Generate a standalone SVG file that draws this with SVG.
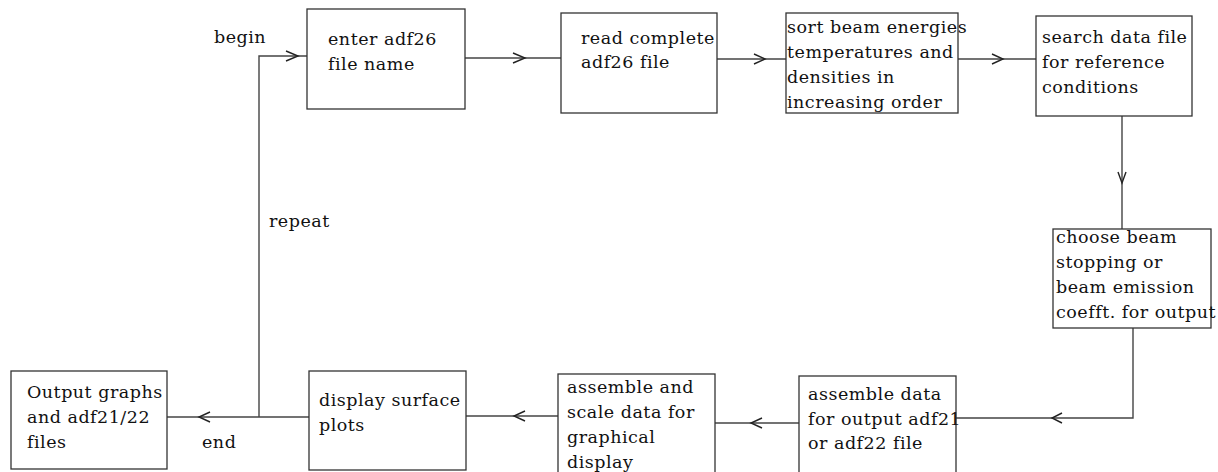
<svg xmlns="http://www.w3.org/2000/svg" width="1218" height="472" viewBox="0 0 1218 472">
<style>
.box{fill:#fff;stroke:#333;stroke-width:1.3}
.ln{fill:none;stroke:#444;stroke-width:1.4}
.ch{fill:none;stroke:#222;stroke-width:1.4}
text{font-family:"DejaVu Serif","Liberation Serif",serif;font-size:17.5px;letter-spacing:0.5px;fill:#111}
</style>
<rect width="1218" height="472" fill="#fff"/>
<g id="connectors">
<path class="ln" d="M259,417 V56 H307"/>
<path class="ch" d="M286,51 L298,56 L286,61"/>
<path class="ln" d="M465,58 H561"/>
<path class="ch" d="M513,53 L525,58 L513,63"/>
<path class="ln" d="M717,59 H786"/>
<path class="ch" d="M754,54 L765,59 L754,64"/>
<path class="ln" d="M958,59 H1036"/>
<path class="ch" d="M992,54 L1003,59 L992,64"/>
<path class="ln" d="M1122,116 V229"/>
<path class="ch" d="M1118,172 L1122,183 L1126,172"/>
<path class="ln" d="M1133,328 V418 H956"/>
<path class="ch" d="M1062,413 L1052,418 L1062,423"/>
<path class="ln" d="M799,423 H715"/>
<path class="ch" d="M762,418 L751,423 L762,428"/>
<path class="ln" d="M558,416 H466"/>
<path class="ch" d="M525,411 L514,416 L525,421"/>
<path class="ln" d="M309,417 H167"/>
<path class="ch" d="M210,412 L199,417 L210,422"/>
</g>
<g id="labels">
<text x="214" y="43">begin</text>
<text x="269" y="227">repeat</text>
<text x="202" y="448">end</text>
</g>
<g id="n1"><rect class="box" x="307" y="9" width="158" height="100"/>
<text x="328" y="45">enter adf26</text><text x="328" y="70">file name</text></g>
<g id="n2"><rect class="box" x="561" y="13" width="156" height="100"/>
<text x="581" y="44">read complete</text><text x="581" y="68">adf26 file</text></g>
<g id="n3"><rect class="box" x="786" y="13" width="172" height="100"/>
<text x="787" y="33">sort beam energies</text><text x="787" y="58">temperatures and</text><text x="787" y="83">densities in</text><text x="787" y="108">increasing order</text></g>
<g id="n4"><rect class="box" x="1036" y="16" width="156" height="100"/>
<text x="1042" y="43">search data file</text><text x="1042" y="68">for reference</text><text x="1042" y="93">conditions</text></g>
<g id="n5"><rect class="box" x="1053" y="229" width="158" height="99"/>
<text x="1056" y="243">choose beam</text><text x="1056" y="268">stopping or</text><text x="1056" y="293">beam emission</text><text x="1056" y="318">coefft. for output</text></g>
<g id="n6"><rect class="box" x="799" y="376" width="157" height="100"/>
<text x="808" y="400">assemble data</text><text x="808" y="425">for output adf21</text><text x="808" y="449">or adf22 file</text></g>
<g id="n7"><rect class="box" x="558" y="374" width="157" height="100"/>
<text x="567" y="393">assemble and</text><text x="567" y="418">scale data for</text><text x="567" y="443">graphical</text><text x="567" y="468">display</text></g>
<g id="n8"><rect class="box" x="309" y="371" width="157" height="99"/>
<text x="319" y="406">display surface</text><text x="319" y="431">plots</text></g>
<g id="n9"><rect class="box" x="11" y="371" width="156" height="98"/>
<text x="27" y="398">Output graphs</text><text x="27" y="423">and adf21/22</text><text x="27" y="448">files</text></g>
</svg>
